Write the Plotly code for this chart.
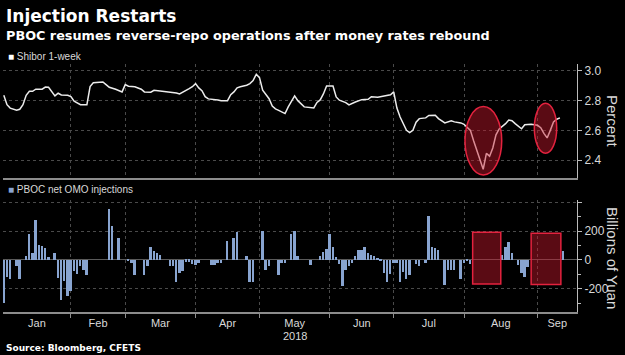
import plotly.graph_objects as go

# ---------------- data (x = trading-day index from 2 Jan 2018) ----------------
shibor_day = [1, 2, 3, 5, 6, 7, 8, 9, 10, 11, 13, 14, 15, 16, 17, 18, 19, 21, 22, 23,
              24, 25, 27, 28, 29, 31, 32, 33, 34, 36, 37, 38, 39, 40, 42, 44, 45, 47, 48, 50,
              52, 55, 56, 57, 59, 60, 61, 62, 63, 64, 65, 68, 69, 71, 72, 73, 74, 75, 77, 78,
              79, 80, 81, 82, 84, 85, 86, 87, 88, 89, 90, 92, 93, 94, 95, 98, 99, 100, 101, 102,
              104, 105, 106, 108, 109, 111, 113, 115, 116, 118, 120, 122, 123, 124, 125, 126, 127, 128, 129, 130,
              131, 133, 134, 136, 137, 139, 141, 142, 144, 145, 147, 148, 149, 150, 151, 152, 153, 154, 155, 156,
              157, 158, 159, 160, 161, 162, 163, 164, 166, 168, 169, 170, 171, 172, 173, 174, 175]
shibor_pct = [2.836, 2.773, 2.750, 2.735, 2.742, 2.773, 2.836, 2.863, 2.863, 2.877, 2.877, 2.892, 2.890, 2.863, 2.832, 2.850, 2.838, 2.836, 2.827, 2.796,
              2.787, 2.773, 2.773, 2.895, 2.921, 2.921, 2.926, 2.908, 2.890, 2.877, 2.867, 2.859, 2.908, 2.897, 2.894, 2.877, 2.859, 2.857, 2.870, 2.865,
              2.863, 2.852, 2.845, 2.859, 2.881, 2.894, 2.915, 2.886, 2.867, 2.827, 2.812, 2.805, 2.800, 2.800, 2.840, 2.859, 2.886, 2.894, 2.904, 2.915,
              2.935, 2.978, 2.955, 2.870, 2.813, 2.764, 2.745, 2.735, 2.724, 2.713, 2.758, 2.832, 2.800, 2.778, 2.758, 2.751, 2.788, 2.805, 2.845, 2.899,
              2.899, 2.825, 2.803, 2.787, 2.771, 2.791, 2.807, 2.809, 2.827, 2.823, 2.832, 2.840, 2.859, 2.750, 2.690, 2.645, 2.600, 2.585, 2.600, 2.655,
              2.679, 2.684, 2.700, 2.702, 2.679, 2.650, 2.665, 2.657, 2.650, 2.641, 2.600, 2.530, 2.470, 2.400, 2.338, 2.445, 2.426, 2.481, 2.570, 2.610,
              2.625, 2.645, 2.670, 2.665, 2.645, 2.625, 2.611, 2.638, 2.641, 2.634, 2.618, 2.580, 2.549, 2.600, 2.657, 2.675, 2.684]

# PBOC net OMO injections, billions of yuan, trading days 1..176
omo_bn = [-297, -115, -131, 0, -44, -131, 0, 25, 179, 48,
          274, 101, 94, 83, 18, 0, 48, -124, -274, -147,
          -246, -216, -78, -94, -44, -67, -106, 0, 0, 0,
          0, 0, 0, 354, 232, 0, 152, 0, 0, -9,
          -23, -106, 0, 0, -106, -44, 90, 60, 48, 37,
          0, 0, -44, -44, -154, -92, -74, -12, -12, -30,
          -32, -21, 0, 0, 0, -32, -32, -21, -21, 0,
          133, 0, 152, 193, 0, 0, 25, -154, -154, 0,
          0, 202, -71, -44, 0, 0, -101, -21, -21, 0,
          179, 202, 25, 0, 0, 0, -32, 0, 0, 30,
          52, 75, 179, 88, 18, -26, -182, -70, -40, -18,
          25, 71, 71, 92, 48, 37, 30, 16, -7, -90,
          -152, -100, -21, -18, -152, -86, -132, -107, 0, -28,
          -44, 0, -23, 305, 92, 80, 69, 0, -175, -70,
          -66, -70, 0, -130, -24, -9, -28, 0, 0, 0,
          0, 0, 0, 0, 0, 0, 37, 87, 122, 48,
          0, -37, -90, -120, -51, 0, 0, 0, 0, 0,
          0, 0, 0, 0, 0, 60]
omo_day = list(range(1, len(omo_bn) + 1))

month_names = ["Jan", "Feb", "Mar", "Apr", "May", "Jun", "Jul", "Aug", "Sep"]
month_first_day = [0, 22, 39, 61, 81, 103, 123, 145, 168]

top_ticks = [2.4, 2.6, 2.8, 3.0]
top_ticktext = ["2.4", "2.6", "2.8", "3.0"]
bot_ticks = [-200, 0, 200, 400]
bot_ticktext = ["-200", "0", "200", ""]

# ---------------- layout helpers ----------------
W, H = 625, 355
ML, MR, MT, MB = 3, 48, 64, 43
PW, PH = W - ML - MR, H - MT - MB
X_RANGE = [0.75, 180.35]


def py(pix):  # page pixel row -> paper y
    return (H - MB - pix) / PH


def px(pix):  # page pixel column -> paper x
    return (pix - ML) / PW


month_bounds = month_first_day[1:]
edges = [X_RANGE[0]] + month_bounds + [X_RANGE[1]]
month_mid = [(edges[i] + edges[i + 1]) / 2 for i in range(len(month_names))]

BG = "#000000"
GRID = "#4a4a4a"
AXIS = "#8c8c8c"
TXT = "#d9d9d9"
BAR = "#88a4d0"
NARROW = "Liberation Sans Narrow, Liberation Sans, Arial, sans-serif"
BOLD = "DejaVu Sans, Verdana, sans-serif"

fig = go.Figure()
fig.add_trace(go.Scatter(x=shibor_day, y=shibor_pct, mode="lines",
                         line=dict(color="#ececec", width=1.5),
                         xaxis="x", yaxis="y", showlegend=False, hoverinfo="skip"))
fig.add_trace(go.Bar(x=omo_day, y=omo_bn, width=0.6,
                     marker=dict(color=BAR, line=dict(width=0)),
                     xaxis="x2", yaxis="y2", showlegend=False, hoverinfo="skip"))

minor_x = dict(tickmode="array", tickvals=month_bounds, showgrid=True,
               gridcolor=GRID, griddash="dot", gridwidth=1, ticks="")

fig.update_layout(
    width=W, height=H,
    margin=dict(l=ML, r=MR, t=MT, b=MB, autoexpand=False),
    paper_bgcolor=BG, plot_bgcolor=BG,
    bargap=0,
    xaxis=dict(domain=[0, 1], anchor="y", range=X_RANGE, showticklabels=False,
               showgrid=False, zeroline=False, ticks="", minor=minor_x,
               showline=True, linecolor=AXIS, linewidth=2),
    yaxis=dict(domain=[py(178), 1], anchor="x", side="right",
               range=[2.279, 3.047], tickmode="array", tickvals=top_ticks,
               ticktext=top_ticktext, ticks="outside", ticklen=4, tickcolor="#bbbbbb",
               showline=True, linecolor="#bbbbbb", linewidth=1,
               showgrid=True, gridcolor=GRID, griddash="dot", zeroline=False,
               tickfont=dict(family=NARROW, size=12, color=TXT)),
    xaxis2=dict(domain=[0, 1], anchor="y2", range=X_RANGE, tickmode="array",
                tickvals=month_mid, ticktext=month_names, ticks="",
                showgrid=False, zeroline=False,
                minor=dict(tickmode="array", tickvals=month_bounds, showgrid=True,
                           gridcolor=GRID, griddash="dot", gridwidth=1,
                           ticks="outside", ticklen=4, tickcolor=AXIS),
                showline=True, linecolor=AXIS, linewidth=2,
                tickfont=dict(family=NARROW, size=11, color=TXT)),
    yaxis2=dict(domain=[0, py(200)], anchor="x2", side="right",
                range=[-359, 414], tickmode="array", tickvals=bot_ticks,
                ticktext=bot_ticktext, ticks="outside", ticklen=4, tickcolor="#bbbbbb",
                minor=dict(tickmode="array", tickvals=[-300, -100, 100, 300],
                           ticks="outside", ticklen=3, tickcolor="#bbbbbb", showgrid=False),
                showline=True, linecolor="#bbbbbb", linewidth=1,
                showgrid=True, gridcolor=GRID, griddash="dot",
                zeroline=True, zerolinecolor="#5a5a5a", zerolinewidth=1,
                tickfont=dict(family=NARROW, size=12, color=TXT)),
)

hl_fill = "rgba(200,25,45,0.45)"
hl_line = dict(color="#e3223e", width=1.5)
shapes = [
    dict(type="circle", xref="x", yref="y", x0=145.3, x1=156.8, y0=2.30, y1=2.76,
         fillcolor=hl_fill, line=hl_line, layer="above"),
    dict(type="circle", xref="x", yref="y", x0=167.0, x1=174.0, y0=2.446, y1=2.782,
         fillcolor=hl_fill, line=hl_line, layer="above"),
    dict(type="rect", xref="x2", yref="y2", x0=147.7, x1=156.5, y0=-166, y1=191,
         fillcolor=hl_fill, line=hl_line, layer="above"),
    dict(type="rect", xref="x2", yref="y2", x0=166.0, x1=175.3, y0=-170, y1=184,
         fillcolor=hl_fill, line=hl_line, layer="above"),
]
fig.update_layout(shapes=shapes)

ann = [
    dict(text="<b>Injection Restarts</b>", x=px(4), y=py(16),
         font=dict(family=BOLD, size=17, color="#ffffff")),
    dict(text="<b>PBOC resumes reverse-repo operations after money rates rebound</b>",
         x=px(4), y=py(35), font=dict(family=BOLD, size=12.8, color="#ffffff")),
    dict(text="<span style='color:#ffffff'>■</span> Shibor 1-week", x=px(6), y=py(56),
         font=dict(family=NARROW, size=10, color=TXT)),
    dict(text="<span style='color:%s'>■</span> PBOC net OMO injections" % BAR,
         x=px(6), y=py(189), font=dict(family=NARROW, size=10, color=TXT)),
    dict(text="<b>Source: Bloomberg, CFETS</b>", x=px(4), y=py(348),
         font=dict(family=BOLD, size=9, color="#ffffff")),
]
for a in ann:
    a.update(xref="paper", yref="paper", xanchor="left", yanchor="middle", showarrow=False)

ann += [
    dict(text="Percent", x=px(613), y=py(121), xref="paper", yref="paper", textangle=90,
         showarrow=False, xanchor="center", yanchor="middle",
         font=dict(family=NARROW, size=15, color=TXT)),
    dict(text="Billions of Yuan", x=px(613), y=py(258), xref="paper", yref="paper",
         textangle=90, showarrow=False, xanchor="center", yanchor="middle",
         font=dict(family=NARROW, size=15, color=TXT)),
    dict(text="2018", x=month_mid[4], y=py(336), xref="x2", yref="paper",
         showarrow=False, xanchor="center", yanchor="middle",
         font=dict(family=NARROW, size=11, color=TXT)),
]
fig.update_layout(annotations=ann)

fig.write_html("out.html", config={"displayModeBar": False},
               post_script="document.body.style.margin='0';document.body.style.padding='0';"
                           "document.body.style.background='#000';")
